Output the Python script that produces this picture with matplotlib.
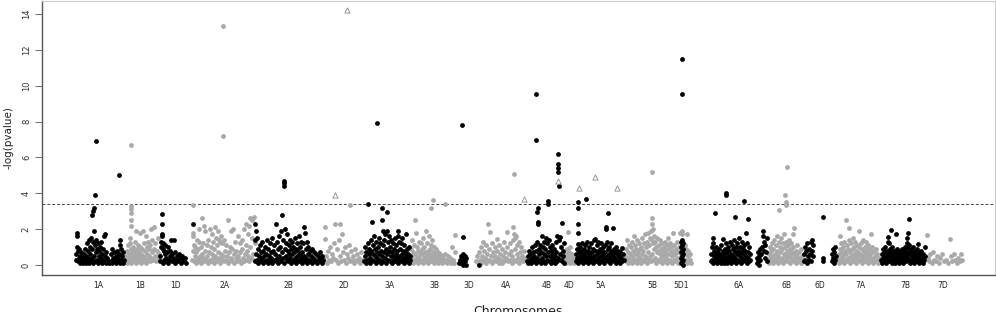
import matplotlib
matplotlib.use("Agg")
import matplotlib.pyplot as plt

# chromosome labels and their centre positions on the genome axis
chrom_names = ["1A", "1B", "1D", "2A", "2B", "2D", "3A", "3B", "3D", "4A", "4B",
               "4D", "5A", "5B", "5D1", "6A", "6B", "6D", "7A", "7B", "7D"]
chrom_centers = [98, 140, 176, 224, 288, 344, 389, 434, 469, 506, 547,
                 569, 600, 652, 681, 739, 786, 820, 860, 905, 943]

# (position, -log p) per chromosome
chr_1A = [(76,0.3),(76,0.6),(77,1.0),(77,1.6),(77,1.8),(78,0.2),(78,0.8),(79,0.4),(79,0.9),(80,0.1),
          (80,0.5),(81,0.3),(81,0.7),(82,0.2),(82,0.5),(83,0.1),(83,0.4),(84,0.6),(84,0.2),(85,0.3),
          (85,0.9),(86,0.1),(86,0.5),(87,0.2),(87,1.2),(88,0.4),(88,0.8),(89,0.1),(89,1.4),(90,0.3),
          (90,0.6),(90,1.0),(91,0.2),(91,1.5),(92,0.4),(92,0.9),(92,2.8),(93,0.1),(93,1.3),(93,3.0),
          (94,0.5),(94,1.9),(94,3.2),(95,3.9),(96,6.94),(95,0.2),(95,1.1),(96,0.7),(96,1.4),(97,0.3),
          (97,0.9),(98,0.1),(98,1.2),(99,0.5),(99,0.8),(100,0.2),(100,1.0),(101,0.4),(101,1.3),(102,0.1),
          (102,0.6),(103,0.3),(103,0.9),(104,0.2),(104,1.6),(105,0.5),(105,1.7),(106,0.1),(106,0.7),
          (107,0.3),(107,0.4),(108,0.2),(109,0.1),(111,0.2),(111,0.6),(112,0.1),(112,0.9),(113,0.4),
          (114,0.2),(114,0.7),(115,0.3),(116,0.1),(116,0.5),(117,0.8),(118,0.2),(118,0.4),(119,5.0),
          (119,0.6),(120,0.1),(120,1.1),(120,1.4),(121,0.3),(121,0.9),(122,0.2),(122,0.5),(123,0.1),
          (123,0.7),(124,0.3)]
chr_1B = [(125,0.2),(126,0.5),(127,0.1),(127,0.8),(128,0.3),(128,1.1),(129,0.6),(129,0.2),(130,0.4),
          (130,1.2),(130,1.5),(131,0.1),(131,0.9),(131,2.2),(131,2.5),(131,2.9),(131,3.1),(131,3.3),
          (131,6.7),(132,0.3),(132,0.7),(133,0.5),(133,1.0),(134,0.2),(134,0.8),(135,0.4),(135,1.3),
          (136,0.1),(136,0.6),(136,1.9),(137,0.3),(137,0.9),(138,0.5),(138,1.1),(139,0.2),(139,0.7),
          (140,0.4),(140,1.0),(140,1.8),(141,0.1),(141,0.6),(142,0.3),(142,0.9),(143,1.9),(143,0.5),
          (144,0.2),(144,1.2),(145,0.4),(145,0.8),(146,1.6),(146,0.1),(147,0.6),(147,1.0),(148,0.3),
          (148,1.3),(149,0.5),(149,0.9),(150,0.2),(150,1.1),(151,0.4),(151,2.0),(152,0.7),(152,1.4),
          (153,0.3),(154,0.9),(154,2.1),(155,0.5),(155,1.2),(156,0.2),(157,0.8),(158,0.4),(158,1.5),
          (159,0.6)]
chr_1D = [(160,0.2),(160,0.5),(161,1.0),(161,1.3),(162,1.6),(162,1.7),(162,2.3),(162,2.85),(163,0.9),
          (163,1.2),(163,0.1),(164,0.8),(164,0.3),(165,0.6),(165,1.1),(166,0.2),(166,0.4),(167,0.7),
          (168,0.1),(168,1.0),(169,0.3),(170,0.5),(170,0.8),(171,1.4),(172,0.2),(172,0.6),(173,0.4),
          (174,1.4),(175,0.1),(175,0.7),(176,0.3),(177,0.5),(178,0.2),(179,0.6),(180,0.4),(181,0.1),
          (182,0.5),(183,0.3),(184,0.2),(185,0.4),(186,0.1),(193,2.3)]
chr_2A = [(192,0.3),(193,0.8),(193,1.6),(193,1.8),(193,3.35),(194,0.2),(194,1.1),(195,0.5),(195,1.0),
          (196,0.1),(196,0.7),(197,1.4),(197,0.4),(198,0.2),(198,0.9),(199,1.3),(199,2.0),(200,0.5),
          (200,0.3),(201,1.0),(201,0.1),(202,2.6),(202,0.6),(203,0.4),(203,1.2),(204,2.2),(204,0.2),
          (205,0.8),(205,1.9),(206,0.3),(207,1.1),(207,0.5),(208,0.1),(208,1.4),(209,0.7),(210,0.3),
          (210,2.0),(211,1.0),(211,0.2),(212,0.6),(212,1.7),(213,0.4),(213,1.3),(214,0.1),(214,0.9),
          (215,2.1),(215,0.5),(216,0.3),(216,1.5),(217,1.1),(217,0.2),(218,0.7),(218,1.9),(219,0.4),
          (219,1.4),(220,1.3),(220,0.1),(221,1.6),(221,0.6),(222,0.3),(222,1.2),(223,13.3),(223,7.2),
          (223,0.5),(224,1.4),(224,0.2),(225,0.8),(226,0.3),(226,1.1),(227,0.5),(228,2.5),(228,0.1),
          (229,0.7),(230,0.3),(230,1.0),(231,1.9),(231,0.4),(232,0.2),(232,0.9),(233,2.0),(234,0.6),
          (234,0.1),(235,1.3),(236,0.4),(236,0.8),(237,0.2),(238,1.6),(238,0.5),(239,0.3),(240,1.2),
          (240,0.7),(241,0.1),(242,0.9),(242,1.4),(243,0.4),(244,2.0),(244,0.2),(245,0.6),(246,1.1),
          (246,2.3),(247,0.3),(247,0.8),(248,1.7),(248,0.5),(249,2.2),(249,0.2),(250,2.6),(250,1.0),
          (251,0.4),(252,2.5),(252,1.5),(253,0.6),(254,2.7),(254,0.3),(255,1.2),(256,0.2)]
chr_2B = [(255,0.2),(255,1.4),(255,2.3),(256,1.9),(256,0.6),(257,1.5),(257,0.3),(258,0.9),(258,0.1),
          (259,0.5),(260,1.1),(260,0.3),(261,0.7),(261,0.2),(262,1.3),(262,0.4),(263,0.1),(263,0.8),
          (264,0.5),(265,1.0),(265,0.2),(266,0.6),(267,1.4),(267,0.3),(268,0.1),(268,0.9),(269,0.5),
          (270,1.2),(270,0.2),(271,0.7),(271,0.4),(272,1.5),(272,0.1),(273,0.8),(274,0.3),(274,1.1),
          (275,0.6),(276,2.3),(276,0.2),(277,1.3),(277,0.4),(278,0.9),(278,0.1),(279,1.6),(279,0.5),
          (280,0.3),(280,1.0),(281,1.9),(281,0.2),(282,2.8),(282,0.7),(283,1.4),(283,0.4),(284,4.4),
          (284,4.55),(284,4.7),(284,0.1),(285,0.9),(285,2.0),(286,0.5),(286,1.2),(287,0.3),(287,1.7),
          (288,0.8),(288,0.2),(289,1.1),(289,0.6),(290,0.4),(290,1.4),(291,0.1),(291,0.9),(292,0.6),
          (292,1.3),(293,0.3),(293,1.0),(294,0.2),(294,0.7),(295,1.5),(295,0.4),(296,0.9),(296,0.1),
          (297,0.5),(297,1.2),(298,0.3),(298,0.8),(299,1.6),(299,0.2),(300,0.6),(300,1.0),(301,0.4),
          (301,1.3),(302,0.1),(302,0.7),(303,1.2),(303,0.3),(304,2.1),(304,0.5),(305,1.8),(305,0.2),
          (306,0.9),(306,0.4),(307,1.3),(307,0.1),(308,0.6),(308,1.0),(309,0.3),(310,0.8),(310,0.2),
          (311,0.5),(312,0.9),(312,0.1),(313,0.4),(314,0.7),(314,0.2),(315,0.3),(316,0.6),(317,0.1),
          (318,0.5),(319,0.3),(320,0.2),(320,0.7),(321,0.4),(322,0.1),(322,0.5),(323,0.3)]
chr_2D = [(324,0.2),(325,2.1),(325,1.45),(326,0.5),(327,0.1),(328,0.8),(329,0.3),(330,1.0),(331,0.2),
          (332,0.6),(333,0.4),(334,1.2),(335,2.3),(336,0.3),(337,0.9),(338,0.1),(339,1.4),(340,0.5),
          (340,2.3),(341,0.2),(342,1.7),(343,0.7),(344,0.3),(345,1.0),(346,0.1),(347,0.6),(348,0.4),
          (349,1.1),(350,3.35),(350,0.2),(351,0.8),(352,0.3),(353,0.5),(354,0.1),(355,0.9),(356,0.3),
          (357,0.6),(358,0.2),(359,0.4),(360,0.1),(361,0.7),(362,0.3)]
chr_3A = [(364,0.2),(365,0.5),(365,1.0),(366,0.1),(366,0.7),(367,0.3),(368,3.4),(368,1.2),(368,0.2),
          (369,0.6),(369,0.9),(370,0.1),(370,0.4),(371,1.4),(371,0.8),(372,2.4),(372,0.3),(373,0.6),
          (373,1.1),(374,0.2),(374,1.6),(375,0.5),(375,0.9),(376,0.1),(376,1.3),(377,7.9),(377,0.4),
          (377,0.7),(378,1.0),(378,0.2),(379,1.5),(379,0.6),(380,0.3),(380,1.2),(381,0.1),(381,0.8),
          (382,2.5),(382,3.2),(382,0.5),(383,1.9),(383,1.1),(383,0.2),(384,0.7),(384,1.4),(385,0.4),
          (385,1.7),(386,0.1),(386,0.9),(387,2.95),(387,1.9),(387,0.6),(388,1.3),(388,0.3),(389,0.8),
          (389,1.6),(390,0.2),(390,1.0),(391,0.5),(391,1.4),(392,0.1),(392,0.7),(393,1.2),(393,0.3),
          (394,0.9),(394,0.5),(395,1.5),(395,0.2),(396,0.6),(396,1.1),(397,0.4),(397,0.8),(398,1.9),
          (398,1.6),(398,0.1),(399,0.5),(399,1.3),(400,0.3),(400,0.9),(401,0.2),(401,1.2),(402,0.6),
          (402,1.5),(403,0.4),(403,0.8),(404,0.1),(404,1.1),(405,0.3),(405,0.7),(406,0.5),(406,1.7),
          (407,0.2),(407,0.9),(408,0.4),(408,0.6),(409,0.1),(409,1.0),(410,0.3),(410,0.5)]
chr_3B = [(411,0.2),(411,0.9),(412,0.5),(412,1.4),(413,0.1),(413,0.7),(414,0.3),(414,1.1),(415,2.5),
          (415,0.6),(416,0.2),(416,1.8),(417,0.4),(417,1.0),(418,0.1),(418,0.8),(419,0.5),(419,1.3),
          (420,0.3),(420,0.7),(421,0.2),(421,1.2),(422,0.6),(422,0.9),(423,0.1),(423,1.5),(424,0.4),
          (424,1.0),(425,0.2),(425,0.7),(426,1.9),(426,0.5),(427,0.3),(427,1.2),(428,0.1),(428,0.8),
          (429,0.6),(429,1.6),(430,0.4),(430,0.9),(431,3.15),(431,0.2),(431,1.1),(432,0.5),(432,1.4),
          (433,3.65),(433,0.3),(433,0.7),(434,0.1),(434,1.0),(435,0.6),(435,0.4),(436,0.2),(436,0.9),
          (437,0.5),(437,0.3),(438,0.1),(438,0.7),(439,0.4),(440,0.2),(440,0.6),(441,0.3),(442,0.5),
          (442,0.1),(443,0.4),(444,0.2),(445,3.4),(445,0.6),(446,0.3),(447,0.1),(448,0.5),(449,0.2),
          (450,0.4),(451,0.1),(452,1.0),(453,0.3),(454,0.1),(455,1.65),(455,0.7)]
chr_3D = [(459,0.1),(460,0.3),(461,0.5),(461,0.1),(462,7.8),(462,0.2),(462,0.4),(463,1.55),(463,0.6),
          (463,0.0),(464,0.3),(464,0.1),(465,0.5),(465,0.2),(466,0.4),(466,0.0),(479,0.0)]
chr_4A = [(476,0.2),(477,0.5),(478,0.1),(479,0.7),(480,0.3),(481,1.0),(481,0.1),(482,0.5),(483,1.3),
          (483,0.2),(484,0.8),(485,0.4),(486,1.1),(486,0.1),(487,0.6),(488,2.3),(488,0.3),(489,0.9),
          (490,1.85),(490,0.2),(491,0.5),(492,1.2),(492,0.1),(493,0.7),(494,0.3),(495,1.0),(495,0.5),
          (496,0.2),(497,1.45),(497,0.8),(498,0.4),(499,0.1),(499,1.1),(500,0.6),(501,0.3),(502,0.9),
          (502,0.1),(503,0.5),(504,1.3),(504,0.2),(505,0.7),(506,0.4),(507,1.85),(507,1.0),(508,0.2),
          (509,0.6),(510,0.3),(510,1.2),(511,0.8),(512,0.1),(512,0.5),(513,2.1),(513,1.4),(514,5.1),
          (514,1.7),(514,0.3),(515,1.5),(515,0.9),(516,1.6),(516,0.2),(517,1.1),(517,0.6),(518,0.4),
          (519,1.3),(519,0.1),(520,0.7),(521,0.3),(521,1.0),(522,0.5),(523,0.2),(524,0.8),(525,0.4)]
chr_4B = [(527,0.2),(528,0.5),(528,0.1),(529,0.8),(530,0.3),(530,0.6),(531,0.1),(532,0.4),(532,1.0),
          (533,0.2),(533,0.7),(534,0.5),(535,0.3),(535,1.1),(536,9.55),(536,6.95),(536,0.1),(536,0.8),
          (537,2.95),(537,1.3),(537,0.4),(538,3.2),(538,2.4),(538,2.3),(538,0.2),(539,0.9),(539,0.6),
          (540,1.1),(540,0.3),(541,0.1),(541,0.7),(542,1.6),(542,0.4),(543,1.0),(543,0.2),(544,1.3),
          (544,0.6),(545,0.1),(545,0.9),(546,1.5),(546,0.5),(547,0.3),(547,1.2),(548,3.55),(548,3.4),
          (548,0.7),(549,0.2),(549,1.4),(550,0.5),(550,1.0),(551,0.1),(551,0.8),(552,0.4),(552,1.1),
          (553,0.2),(553,0.6),(554,0.9),(554,0.3),(555,0.1),(555,0.5),(556,1.3),(556,0.7),(557,0.2),
          (557,1.6),(558,6.2),(558,5.65),(558,5.4),(558,5.2),(559,4.4),(558,0.4),(559,1.4),(560,1.55),
          (560,0.6),(561,0.3),(561,1.0),(562,2.35),(562,0.2),(563,0.8),(563,0.5),(564,0.1),(564,1.2)]
chr_4D = [(565,0.3),(566,0.6),(566,0.1),(567,0.9),(567,0.4),(568,1.85),(568,0.2),(569,0.7),(569,0.5),
          (570,1.0),(570,0.1),(571,0.3),(572,0.6),(572,0.2),(573,0.4),(574,0.1)]
chr_5A = [(576,0.2),(576,0.6),(577,0.4),(577,0.9),(578,3.5),(578,3.2),(578,2.3),(578,1.8),(578,1.15),
          (578,0.1),(579,0.7),(579,0.3),(580,0.5),(580,1.0),(581,0.2),(581,0.8),(582,0.4),(582,1.2),
          (583,0.1),(583,0.6),(584,0.9),(584,0.3),(585,0.5),(585,1.1),(586,3.7),(586,0.2),(586,0.7),
          (587,0.4),(587,1.3),(588,0.1),(588,0.8),(589,0.6),(589,1.0),(590,0.3),(590,0.5),(591,0.2),
          (591,1.2),(592,0.7),(592,0.4),(593,0.1),(593,0.9),(594,0.5),(594,1.4),(595,1.45),(595,0.3),
          (596,0.8),(596,0.2),(597,1.1),(597,0.6),(598,0.4),(598,1.3),(599,0.1),(599,0.7),(600,0.9),
          (600,0.3),(601,0.5),(601,1.2),(602,0.2),(602,0.8),(603,0.6),(603,1.0),(604,0.4),(604,0.1),
          (605,0.7),(605,1.1),(606,2.1),(606,2.0),(606,0.3),(607,1.3),(607,0.5),(608,2.9),(608,0.9),
          (608,0.2),(609,0.6),(609,1.0),(610,0.4),(610,0.1),(611,0.8),(611,1.2),(612,0.3),(612,0.6),
          (613,2.05),(613,0.5),(614,0.2),(614,0.9),(615,0.7),(615,0.4),(616,0.1),(616,1.0),(617,0.6),
          (617,0.3),(618,0.8),(618,0.2),(619,0.5),(620,0.1),(620,0.7),(621,0.4),(622,0.95),(622,0.2),
          (623,0.6),(624,0.3)]
chr_5B = [(625,0.5),(626,0.2),(626,0.9),(627,1.4),(627,0.4),(628,0.1),(628,0.7),(629,1.1),(629,0.3),
          (630,0.6),(630,0.2),(631,1.0),(631,0.5),(632,0.1),(632,1.3),(633,0.4),(633,0.8),(634,1.6),
          (634,0.2),(635,0.6),(635,1.1),(636,0.3),(636,0.9),(637,0.1),(637,1.4),(638,0.5),(638,0.7),
          (639,0.2),(639,1.2),(640,0.4),(640,0.9),(641,1.0),(641,0.1),(642,0.6),(642,1.5),(643,0.3),
          (643,0.8),(644,1.2),(644,0.2),(645,0.5),(645,1.7),(646,0.4),(646,1.0),(647,0.1),(647,1.3),
          (648,0.7),(648,1.8),(649,0.3),(649,1.1),(650,0.5),(650,1.5),(651,0.2),(651,1.9),(652,5.2),
          (652,2.6),(652,2.3),(652,1.4),(652,0.6),(653,2.0),(653,1.2),(653,0.3),(654,1.6),(654,0.9),
          (655,0.4),(655,1.3),(656,0.1),(656,1.0),(657,0.7),(657,1.5),(658,0.3),(658,0.8),(659,1.1),
          (659,0.2),(660,0.6),(660,1.4),(661,0.4),(661,0.9),(662,0.1),(662,1.2),(663,0.7),(663,0.5),
          (664,1.0),(664,0.2),(665,0.8),(665,1.3),(666,0.4),(666,0.6),(667,0.1),(667,1.1),(668,0.9),
          (668,1.5),(669,0.3),(669,0.6),(670,1.2),(670,0.2),(671,0.7),(671,1.0),(672,0.5),(672,0.1),
          (673,1.8),(673,0.8),(674,0.3),(674,1.1),(675,0.6),(675,0.2),(676,0.9),(677,0.4),(677,1.3),
          (678,0.1),(678,0.7),(679,1.0),(680,0.3),(680,1.8),(681,0.5),(682,1.9),(682,1.7),(683,0.8),
          (684,0.2),(685,1.1),(685,0.6),(686,0.3),(686,0.9),(687,1.7),(687,0.1),(688,0.5),(688,0.8),
          (689,0.2),(690,0.6),(690,0.3),(691,0.1)]
chr_5D1 = [(681,0.1),(681,0.4),(681,0.7),(681,1.0),(681,1.3),(682,11.5),(682,9.55),(682,0.2),(682,0.5),
           (682,0.8),(682,1.1),(682,1.4),(683,0.3),(683,0.6),(683,0.9),(683,1.2),(683,0.0)]
chr_6A = [(711,0.2),(711,0.6),(712,1.0),(712,0.3),(713,1.5),(713,0.1),(713,1.2),(714,0.5),(714,0.8),
          (715,2.9),(715,0.2),(715,0.6),(716,0.4),(716,1.0),(717,0.1),(717,0.7),(718,0.3),(718,0.5),
          (719,0.9),(719,0.2),(720,0.6),(720,0.4),(721,0.1),(721,1.1),(722,0.5),(722,0.3),(723,1.45),
          (723,0.8),(723,0.2),(724,0.6),(724,0.1),(725,0.9),(725,0.4),(726,4.0),(726,3.9),(726,0.3),
          (726,1.2),(727,0.7),(727,0.1),(728,0.5),(728,1.0),(729,0.2),(729,0.8),(730,0.4),(730,1.3),
          (731,0.6),(731,0.1),(732,1.1),(732,0.3),(733,0.9),(733,0.5),(734,0.2),(734,1.4),(735,2.65),
          (735,0.7),(735,0.4),(736,1.0),(736,0.1),(737,0.6),(737,1.2),(738,0.3),(738,0.8),(739,1.5),
          (739,0.2),(740,0.5),(740,1.0),(741,0.7),(741,0.1),(742,1.3),(742,0.4),(743,0.9),(743,0.2),
          (744,3.55),(744,0.6),(744,1.1),(745,0.3),(745,0.8),(746,1.8),(746,0.5),(747,1.2),(747,0.1),
          (748,2.55),(748,0.7),(748,0.4),(749,1.0),(749,0.2),(750,0.6),(750,0.3),(757,0.1),(757,0.4),
          (758,0.7),(758,0.2),(759,0.5),(759,0.0),(760,0.3),(760,0.9),(761,0.6),(762,1.0),(763,1.9),
          (763,1.6),(764,1.3),(764,0.8),(765,1.1),(765,0.4),(766,0.7),(767,1.5),(767,0.2)]
chr_6B = [(768,0.3),(769,0.6),(769,0.1),(770,1.0),(770,0.4),(771,0.2),(771,0.8),(772,1.2),(772,0.5),
          (773,0.1),(773,0.9),(774,0.3),(774,1.4),(775,0.6),(775,0.2),(776,1.1),(776,0.4),(777,0.8),
          (777,1.6),(778,0.1),(778,0.5),(779,3.05),(779,1.3),(779,0.3),(780,0.7),(780,1.0),(781,0.2),
          (781,1.5),(782,0.4),(782,0.9),(783,1.2),(783,0.1),(784,0.6),(784,1.7),(785,3.9),(785,0.3),
          (785,1.0),(786,3.5),(786,3.35),(786,0.5),(786,1.3),(787,5.45),(787,0.2),(787,0.8),(788,1.1),
          (788,0.4),(789,0.6),(789,1.4),(790,0.1),(790,0.9),(791,0.5),(791,1.2),(792,0.3),(792,0.7),
          (793,1.7),(793,1.0),(794,2.05),(794,0.2),(795,0.6),(795,0.4),(796,0.8),(796,0.1),(797,1.1),
          (797,0.5),(798,0.3),(799,0.7),(799,0.2),(800,0.4),(801,0.9),(801,0.1),(802,0.5),(803,0.3)]
chr_6D = [(804,0.2),(804,0.6),(805,1.0),(805,0.3),(806,0.8),(807,0.1),(807,1.2),(808,0.5),(809,0.3),
          (809,0.9),(810,0.6),(811,1.3),(811,0.2),(812,1.4),(812,0.8),(813,0.5),(813,1.1),(823,2.65),
          (823,0.4),(823,0.2),(832,0.2),(832,0.6),(833,0.9),(833,0.4),(834,0.1),(834,0.7),(835,0.3),
          (835,1.0),(836,0.5)]
chr_7A = [(838,0.3),(839,0.6),(839,0.1),(840,1.6),(840,0.9),(841,0.4),(841,1.2),(842,0.2),(842,0.7),
          (843,1.0),(843,0.5),(844,0.1),(844,1.3),(845,0.8),(845,0.3),(846,2.5),(846,0.6),(847,1.1),
          (847,0.2),(848,0.9),(848,0.4),(849,2.05),(849,1.4),(850,0.7),(850,0.1),(851,1.2),(851,0.5),
          (852,0.3),(852,0.9),(853,1.5),(853,0.2),(854,0.6),(854,1.0),(855,0.4),(855,1.3),(856,0.1),
          (856,0.8),(857,1.1),(857,0.5),(858,0.3),(858,0.7),(859,1.9),(859,1.0),(860,0.2),(860,0.6),
          (861,1.2),(861,0.4),(862,0.9),(862,0.1),(863,0.5),(863,1.4),(864,0.7),(864,0.3),(865,1.0),
          (865,0.2),(866,0.6),(866,1.3),(867,0.4),(867,0.8),(868,0.1),(868,1.1),(869,0.5),(869,0.9),
          (870,0.3),(870,0.6),(871,1.75),(871,0.2),(872,0.7),(872,1.0),(873,0.4),(873,0.1),(874,0.8),
          (875,0.5),(875,0.2),(876,0.9),(877,0.3),(877,0.6),(878,0.1),(879,0.4),(880,0.2)]
chr_7B = [(881,0.3),(882,0.6),(882,0.1),(883,0.9),(883,0.4),(884,0.2),(884,0.7),(885,1.0),(885,0.5),
          (886,0.3),(886,0.1),(887,0.8),(887,0.4),(888,1.55),(888,1.3),(888,0.6),(889,1.2),(889,0.2),
          (890,0.5),(890,0.9),(891,1.95),(891,0.3),(891,0.7),(892,0.1),(892,1.0),(893,0.4),(893,0.6),
          (894,0.2),(894,0.8),(895,0.5),(895,0.1),(896,1.7),(896,0.7),(896,0.3),(897,0.9),(897,0.4),
          (898,0.2),(898,0.6),(899,0.8),(899,0.1),(900,0.5),(900,0.3),(901,0.7),(901,0.2),(902,0.9),
          (902,0.4),(903,0.1),(903,0.6),(904,0.3),(904,0.8),(905,0.5),(905,1.0),(906,0.2),(906,0.7),
          (907,1.5),(907,1.2),(907,0.95),(907,0.4),(908,1.8),(908,0.6),(909,2.55),(909,0.3),(909,1.1),
          (910,0.8),(910,0.1),(911,0.5),(911,0.9),(912,0.2),(912,0.7),(913,0.4),(913,1.0),(914,0.1),
          (914,0.6),(915,0.8),(915,0.3),(916,0.5),(916,0.2),(917,0.9),(917,0.4),(918,1.15),(918,0.6),
          (919,0.1),(919,0.7),(920,0.3),(920,0.5),(921,0.8),(921,0.2),(922,0.4),(923,0.6),(923,0.1),
          (924,0.3),(925,1.0),(925,0.5)]
chr_7D = [(927,1.65),(928,0.4),(929,0.2),(930,0.6),(932,0.1),(933,0.7),(934,0.3),(936,0.2),(937,0.5),
          (939,0.1),(940,0.4),(942,0.6),(944,0.2),(946,0.3),(948,0.1),(950,1.45),(951,0.5),(952,0.2),
          (954,0.6),(955,0.3),(957,0.1),(958,0.4),(960,0.2),(961,0.6),(962,0.3)]

# markers drawn as open triangles
tri_pos = [335, 347, 524, 558, 579, 595, 617]
tri_val = [3.9, 14.2, 3.7, 4.7, 4.3, 4.9, 4.3]

threshold = 3.4

chrom_data = [chr_1A, chr_1B, chr_1D, chr_2A, chr_2B, chr_2D, chr_3A, chr_3B, chr_3D, chr_4A,
              chr_4B, chr_4D, chr_5A, chr_5B, chr_5D1, chr_6A, chr_6B, chr_6D, chr_7A, chr_7B, chr_7D]
dark = [True, False, True, False, True, False, True, False, True, False,
        True, False, True, False, True, True, False, True, False, True, False]

BLACK = "#000000"
GRAY = "#a9a9a9"

fig = plt.figure(figsize=(9.96, 3.12), dpi=100)
ax = fig.add_axes([42 / 996, 37 / 312, 953 / 996, 274 / 312])

# gray first, black on top
for want_dark in (False, True):
    for pts, is_dark in zip(chrom_data, dark):
        if is_dark != want_dark:
            continue
        xs = [p[0] for p in pts]
        ys = [p[1] for p in pts]
        ax.scatter(xs, ys, s=12, color=BLACK if is_dark else GRAY, linewidths=0, zorder=3 if is_dark else 2)

ax.scatter(tri_pos, tri_val, s=14, marker="^", facecolors="white", edgecolors="#8a8a8a",
           linewidths=0.6, zorder=4)

ax.axhline(threshold, color="#444444", lw=0.7, ls=(0, (3, 2)), zorder=1)

ax.set_xlim(42, 995)
ax.set_ylim(-0.56, 14.72)

ax.set_yticks(range(0, 15, 2))
ax.set_yticklabels([str(v) for v in range(0, 15, 2)], rotation=90, va="center", fontsize=6, color="#333333")
ax.tick_params(axis="y", length=5, width=0.6, color="#555555", pad=3)
ax.set_xticks(chrom_centers)
ax.set_xticklabels(chrom_names, fontsize=5.5, color="#222222")
ax.tick_params(axis="x", length=0, pad=4)

for side in ("left", "bottom"):
    ax.spines[side].set_color("#555555")
    ax.spines[side].set_linewidth(1.0)
for side in ("top", "right"):
    ax.spines[side].set_color("#cccccc")
    ax.spines[side].set_linewidth(0.8)

fig.text(0.004, 0.56, "-log(pvalue)", rotation=90, ha="left", va="center", fontsize=7.5, color="#222222")
fig.text(0.52, 0.022, "Chromosomes", ha="center", va="top", fontsize=9, color="#222222")

fig.savefig("out.png", dpi=100)
